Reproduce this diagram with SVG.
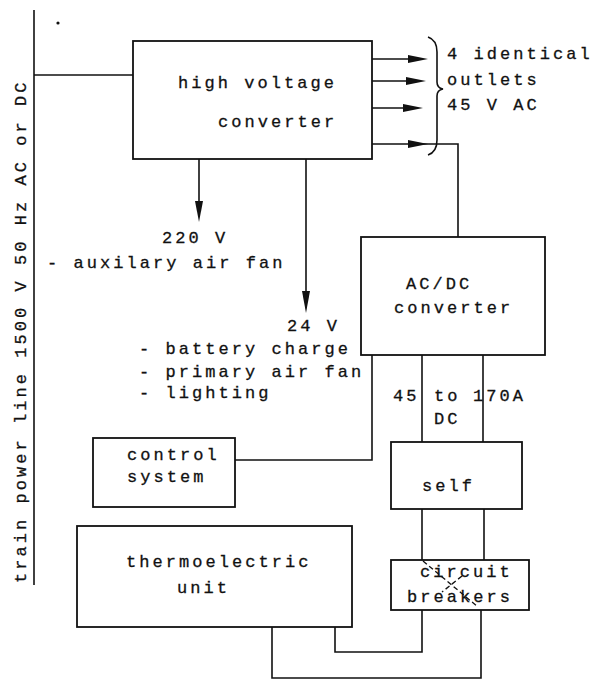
<svg xmlns="http://www.w3.org/2000/svg" width="592" height="679" viewBox="0 0 592 679">
<style>
.bx{fill:#fff;stroke:#111;stroke-width:1.8}
.ln{fill:none;stroke:#111;stroke-width:1.6}
.t{font-family:"Liberation Mono","DejaVu Sans Mono",monospace;font-size:17px;letter-spacing:3.05px;fill:#111;stroke:#111;stroke-width:0.3}
.ah{fill:#111}
.ds{fill:none;stroke:#111;stroke-width:1.3;stroke-dasharray:5 3}
</style>
<rect width="592" height="679" fill="#fff"/>
<g id="connectors">
<line class="ln" x1="34" y1="10" x2="34" y2="585"/>
<line class="ln" x1="34" y1="75" x2="133" y2="75"/>
<line class="ln" x1="372" y1="59" x2="412" y2="59"/>
<polygon class="ah" points="408,55 428,59 408,63"/>
<line class="ln" x1="372" y1="81" x2="410" y2="81"/>
<polygon class="ah" points="406,77 426,81 406,85"/>
<line class="ln" x1="372" y1="108" x2="408" y2="108"/>
<polygon class="ah" points="403,104 423,108 403,112"/>
<polyline class="ln" points="372,144 458,144 458,237"/>
<polygon class="ah" points="408,140 428,144 408,148"/>
<line class="ln" x1="199" y1="159" x2="199" y2="205"/>
<polygon class="ah" points="195,201 199,222 203,201"/>
<line class="ln" x1="306" y1="159" x2="306" y2="295"/>
<polygon class="ah" points="302,291 306,313 310,291"/>
<polyline class="ln" points="372,355 372,460 235,460"/>
<line class="ln" x1="422" y1="355" x2="422" y2="442"/>
<line class="ln" x1="483" y1="355" x2="483" y2="442"/>
<line class="ln" x1="422" y1="509" x2="422" y2="560"/>
<line class="ln" x1="484" y1="509" x2="484" y2="560"/>
<polyline class="ln" points="422,610 422,652 335,652 335,627"/>
<polyline class="ln" points="481,610 481,678 272,678 272,627"/>
</g>
<path class="ln" d="M428,37 Q437,40 437,52 L437,82 Q437,88 443,89 Q437,90 437,96 L437,140 Q437,152 428,155"/>
<circle cx="58" cy="23" r="1.6" fill="#111"/>
<text class="t" transform="translate(26,583) rotate(-90)">train power line 1500 V 50 Hz AC or DC</text>
<g id="hv-converter">
<rect class="bx" x="133" y="41" width="239" height="118"/>
<text class="t" x="178" y="88">high voltage</text>
<text class="t" x="218" y="127">converter</text>
</g>
<g id="outlets">
<text class="t" x="447" y="59">4 identical</text>
<text class="t" x="447" y="85">outlets</text>
<text class="t" x="447" y="110">45 V AC</text>
</g>
<g id="out-220">
<text class="t" x="162" y="243">220 V</text>
<text class="t" x="47" y="268">- auxilary air fan</text>
</g>
<g id="out-24">
<text class="t" x="287" y="331">24 V</text>
<text class="t" x="139" y="354">- battery charge</text>
<text class="t" x="139" y="377">- primary air fan</text>
<text class="t" x="139" y="398">- lighting</text>
</g>
<g id="acdc-converter">
<rect class="bx" x="361" y="237" width="184" height="118"/>
<text class="t" x="406" y="289">AC/DC</text>
<text class="t" x="394" y="313">converter</text>
</g>
<g id="dc-label">
<text class="t" x="393" y="401">45</text>
<text class="t" x="434" y="401">to</text>
<text class="t" x="473" y="401">170A</text>
<text class="t" x="434" y="424">DC</text>
</g>
<g id="control-system">
<rect class="bx" x="93" y="438" width="142" height="69"/>
<text class="t" x="127" y="460">control</text>
<text class="t" x="127" y="482">system</text>
</g>
<g id="self">
<rect class="bx" x="391" y="442" width="131" height="67"/>
<text class="t" x="422" y="491">self</text>
</g>
<g id="circuit-breakers">
<rect class="bx" x="391" y="560" width="138" height="50"/>
<text class="t" x="420" y="577">circuit</text>
<text class="t" x="407" y="602">breakers</text>
<line class="ds" x1="423" y1="561" x2="478" y2="607"/>
<line class="ds" x1="462" y1="576" x2="442" y2="592"/>
</g>
<g id="thermoelectric-unit">
<rect class="bx" x="77" y="526" width="275" height="101"/>
<text class="t" x="126" y="567">thermoelectric</text>
<text class="t" x="177" y="593">unit</text>
</g>
</svg>
